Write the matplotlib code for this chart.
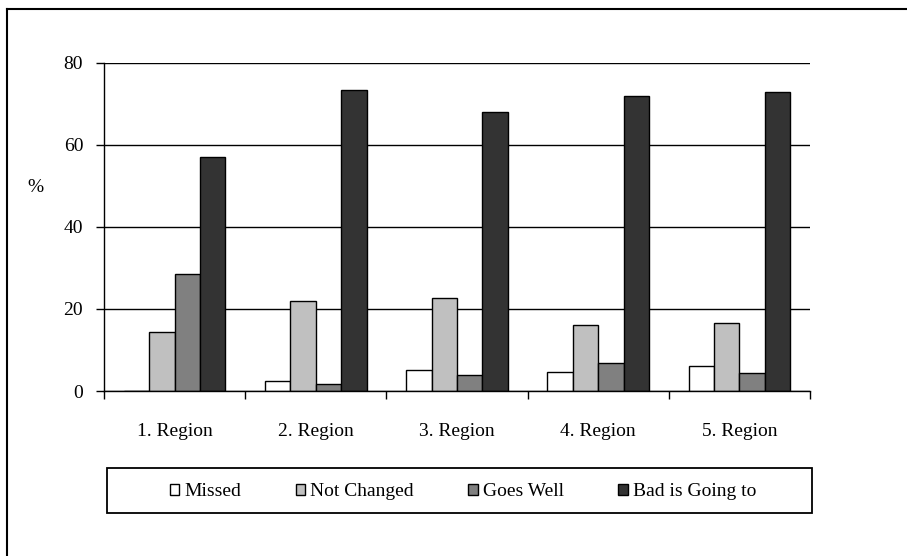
import numpy as np
import matplotlib.pyplot as plt
from matplotlib.patches import Patch, Rectangle
from matplotlib.lines import Line2D

regions = ['1. Region', '2. Region', '3. Region', '4. Region', '5. Region']
series = ['Missed', 'Not Changed', 'Goes Well', 'Bad is Going to']
missed = [0, 2.5, 5.1, 4.6, 6.1]
not_changed = [14.4, 21.9, 22.7, 16.1, 16.6]
goes_well = [28.5, 1.7, 3.8, 6.8, 4.3]
bad = [57.1, 73.3, 68.1, 72.0, 73.0]
colors = ['#ffffff', '#c0c0c0', '#808080', '#333333']

plt.rcParams['font.family'] = ['Liberation Serif', 'DejaVu Serif']
plt.rcParams['font.size'] = 14

fig = plt.figure(figsize=(9.07, 5.56), dpi=100)
ax = fig.add_axes([104/907, 1-391/556, (810-104)/907, (391-63)/556])

x = np.arange(len(regions))
w = 0.18
data = [missed, not_changed, goes_well, bad]
for i, (vals, c) in enumerate(zip(data, colors)):
    ax.bar(x + (i - 1.5) * w, vals, w, color=c, edgecolor='black', linewidth=1, zorder=3)

ax.set_xlim(-0.5, len(regions) - 0.5)
ax.set_ylim(0, 80)
ax.set_yticks([0, 20, 40, 60, 80])
ax.yaxis.grid(True, color='black', linewidth=1, zorder=0)
ax.set_xticks(x)
ax.set_xticklabels(regions)
ax.set_xticks(np.arange(len(regions) + 1) - 0.5, minor=True)
ax.tick_params(axis='x', which='major', length=0, pad=23)
ax.tick_params(axis='x', which='minor', length=6, width=1)
ax.tick_params(axis='y', length=6, width=1, pad=9)
for s in ['top', 'right']:
    ax.spines[s].set_visible(False)
for s in ['left', 'bottom']:
    ax.spines[s].set_linewidth(1)
    ax.spines[s].set_zorder(4)

fig.text(35/907, 1-188/556, '%', ha='center', va='center', fontsize=14)

# legend box drawn separately, entries centred inside it
fig.add_artist(Rectangle((107/907, 1-513/556), (812-107)/907, (513-468)/556,
                         facecolor='none', edgecolor='black', lw=1.3,
                         transform=fig.transFigure))
handles = [Patch(facecolor=c, edgecolor='black', linewidth=1) for c in colors]
fig.legend(handles, series, loc='center', ncol=4,
           bbox_to_anchor=(463/907, 1-492/556),
           frameon=False, handlelength=0.5, handleheight=0.5,
           handletextpad=0.25, columnspacing=2.8, fontsize=14)

# outer chart border
fig.add_artist(Line2D([7/907, 7/907], [0, 1-9/556], color='black', lw=1.5, transform=fig.transFigure))
fig.add_artist(Line2D([7/907, 1], [1-9/556, 1-9/556], color='black', lw=1.5, transform=fig.transFigure))

fig.savefig('out.png', dpi=100)
